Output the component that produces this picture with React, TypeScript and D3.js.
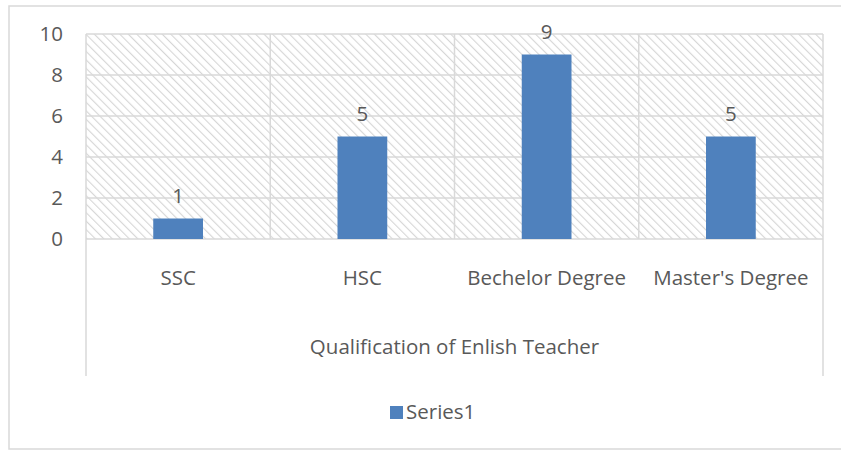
import React from "react";
import * as d3 from "d3";

const categories = ["SSC", "HSC", "Bechelor Degree", "Master's Degree"];
const values = [1, 5, 9, 5];
const yTicks = [0, 2, 4, 6, 8, 10];
const seriesName = "Series1";
const axisTitle = "Qualification of Enlish Teacher";

const W = 841;
const H = 450;
const plot = { left: 86, right: 823, top: 34, bottom: 239 };
const catAxisBottom = 376;
const grid = "#d9d9d9";
const textColor = "#595959";
const barColor = "#4f81bd";
const font = "'Open Sans', sans-serif";
const fs = 20.5;

export default function App() {
  const x = d3
    .scaleBand<string>()
    .domain(categories)
    .range([plot.left, plot.right])
    .paddingInner(0)
    .paddingOuter(0);

  const y = d3.scaleLinear().domain([0, 10]).range([plot.bottom, plot.top]);

  const barW = x.bandwidth() * 0.27;
  const bounds = categories.map((c) => x(c) ?? 0).concat([plot.right]);

  return (
    <svg
      width={W}
      height={H}
      style={{ position: "absolute", left: 0, top: 0, background: "#fff" }}
      fontFamily={font}
    >
      <defs>
        <pattern
          id="hatch"
          width={6}
          height={6}
          patternUnits="userSpaceOnUse"
          patternTransform="rotate(-45)"
        >
          <rect width={6} height={6} fill="#fff" />
          <line x1={0} y1={0} x2={0} y2={6} stroke="#d6d6d6" strokeWidth={2.2} />
        </pattern>
      </defs>

      {/* outer chart border */}
      <rect x={9} y={6} width={W} height={443} fill="#fff" stroke={grid} strokeWidth={1.5} />

      {/* plot area fill */}
      <rect
        x={plot.left}
        y={plot.top}
        width={plot.right - plot.left}
        height={plot.bottom - plot.top}
        fill="url(#hatch)"
      />

      {/* horizontal gridlines */}
      {yTicks.map((t) => (
        <line
          key={t}
          x1={plot.left}
          x2={plot.right}
          y1={y(t)}
          y2={y(t)}
          stroke={grid}
          strokeWidth={1.5}
        />
      ))}

      {/* vertical category lines: inner ones in plot, outer ones down through axis area */}
      {bounds.map((bx, i) => {
        const outer = i === 0 || i === bounds.length - 1;
        return (
          <line
            key={i}
            x1={bx}
            x2={bx}
            y1={plot.top}
            y2={outer ? catAxisBottom : plot.bottom}
            stroke={grid}
            strokeWidth={1.5}
          />
        );
      })}

      {/* y tick labels */}
      {yTicks.map((t) => (
        <text
          key={t}
          x={63}
          y={y(t)}
          dy="0.35em"
          textAnchor="end"
          fontSize={fs}
          fill={textColor}
        >
          {t}
        </text>
      ))}

      {/* bars */}
      {categories.map((c, i) => {
        const cx = (x(c) ?? 0) + x.bandwidth() / 2;
        return (
          <g key={c}>
            <rect
              x={cx - barW / 2}
              y={y(values[i])}
              width={barW}
              height={y(0) - y(values[i])}
              fill={barColor}
            />
            <text
              x={cx}
              y={y(values[i]) - 23}
              dy="0.35em"
              textAnchor="middle"
              fontSize={fs}
              fill={textColor}
            >
              {values[i]}
            </text>
            <text
              x={cx}
              y={278}
              dy="0.35em"
              textAnchor="middle"
              fontSize={fs}
              fill={textColor}
            >
              {c}
            </text>
          </g>
        );
      })}

      {/* axis title */}
      <text
        x={(plot.left + plot.right) / 2}
        y={347}
        dy="0.35em"
        textAnchor="middle"
        fontSize={fs}
        fill={textColor}
      >
        {axisTitle}
      </text>

      {/* legend */}
      <rect x={390} y={406} width={13} height={13} fill={barColor} />
      <text x={406} y={412} dy="0.35em" fontSize={fs} fill={textColor}>
        {seriesName}
      </text>
    </svg>
  );
}
